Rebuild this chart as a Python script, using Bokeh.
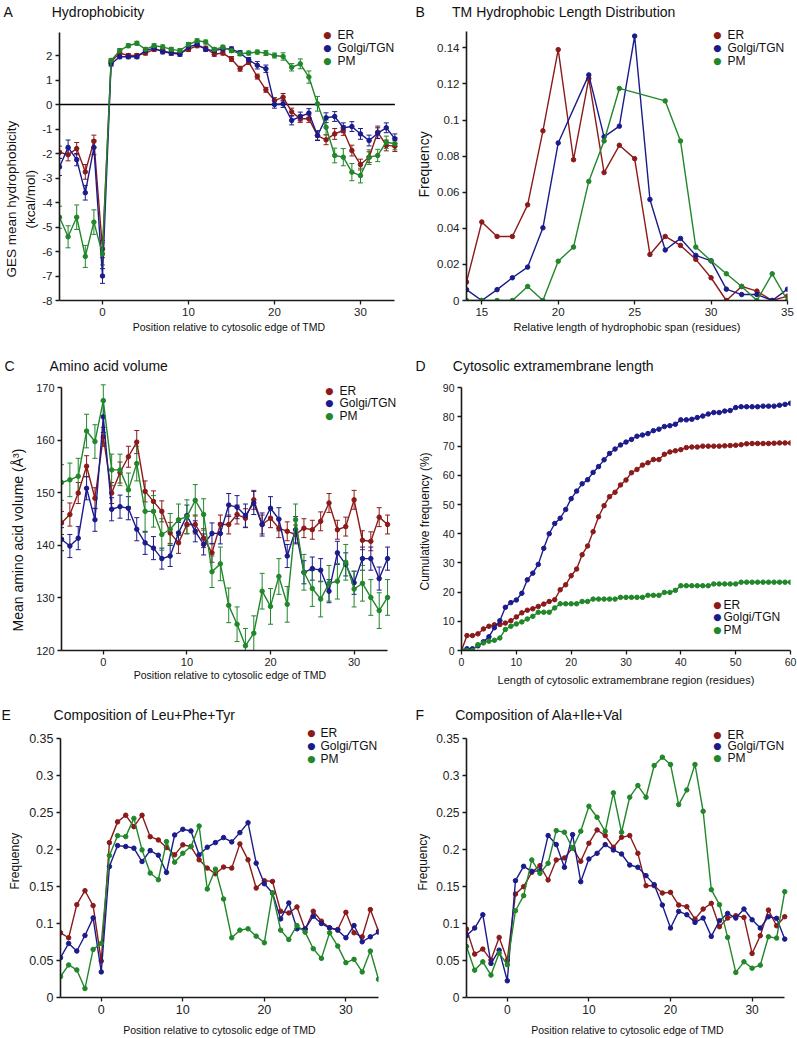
import math
from bokeh.plotting import figure
from bokeh.models import (Range1d, FixedTicker, Label, Whisker, ColumnDataSource, Title,
                          TeeHead, CustomJSTickFormatter)
from bokeh.layouts import column, row
from bokeh.embed import file_html
from bokeh.resources import INLINE

# ---------------- data ----------------
SERIES = ["ER", "Golgi/TGN", "PM"]
COLORS = ["#8b1a1a", "#1b1b8c", "#21872a"]

POS = list(range(-5, 35))  # position relative to cytosolic edge of TMD

# A: hydrophobicity (kcal/mol) with error bars
A_ER = [-1.95, -2.05, -1.8, -2.75, -1.5, -5.9, 1.75, 2.1, 2.0, 2.0, 2.1, 2.25, 2.2, 2.1, 2.1, 2.25, 2.4, 2.3, 2.05,
        2.1, 1.86, 1.46, 1.73, 1.14, 0.6, 0.16, 0.3, -0.3, -0.58, -0.58, -1.27, -1.44, -1.2, -1.06, -1.88, -2.45,
        -2.15, -1.13, -1.67, -1.7]
A_GOLGI = [-2.55, -1.75, -2.25, -3.6, -1.75, -7.0, 1.65, 1.95, 1.95, 1.95, 2.2, 2.3, 2.15, 2.1, 2.05, 2.35, 2.45,
           2.25, 2.2, 2.27, 2.27, 2.1, 1.82, 1.6, 1.46, 0.0, 0.03, -0.65, -0.49, -0.35, -1.27, -0.54, -0.49, -0.95,
           -0.9, -1.2, -1.47, -1.17, -0.95, -1.4]
A_PM = [-4.6, -5.4, -4.6, -6.2, -4.8, -6.1, 1.8, 2.2, 2.4, 2.5, 2.25, 2.4, 2.35, 2.25, 2.2, 2.45, 2.6, 2.55, 2.25,
        2.34, 2.2, 2.07, 2.1, 2.14, 2.1, 2.0, 1.96, 1.52, 1.66, 1.12, 0.03, -0.93, -2.08, -2.15, -2.76, -2.9, -2.15,
        -2.08, -1.54, -1.6]
A_ER_ERR = [0.25, 0.25, 0.25, 0.3, 0.25, 0.35, 0.08, 0.08, 0.08, 0.08, 0.08, 0.08, 0.08, 0.08, 0.08, 0.08, 0.08,
            0.08, 0.08, 0.08, 0.1, 0.1, 0.1, 0.1, 0.1, 0.12, 0.15, 0.15, 0.15, 0.15, 0.18, 0.2, 0.22, 0.2, 0.22,
            0.22, 0.22, 0.25, 0.22, 0.22]
A_GOLGI_ERR = [0.35, 0.3, 0.25, 0.3, 0.3, 0.3, 0.08, 0.08, 0.08, 0.08, 0.08, 0.08, 0.08, 0.08, 0.08, 0.08, 0.08,
               0.08, 0.08, 0.08, 0.08, 0.1, 0.1, 0.15, 0.15, 0.15, 0.15, 0.18, 0.18, 0.18, 0.2, 0.2, 0.2, 0.2,
               0.2, 0.22, 0.22, 0.22, 0.2, 0.2]
A_PM_ERR = [0.45, 0.45, 0.5, 0.45, 0.5, 0.45, 0.08, 0.08, 0.08, 0.08, 0.08, 0.08, 0.08, 0.08, 0.08, 0.08, 0.08,
            0.08, 0.08, 0.08, 0.08, 0.08, 0.08, 0.08, 0.1, 0.1, 0.15, 0.15, 0.2, 0.25, 0.3, 0.3, 0.3, 0.35, 0.35,
            0.3, 0.3, 0.25, 0.25, 0.25]
A_ZERO = [0, 0]  # horizontal reference line at zero hydrophobicity

# B: TM hydrophobic length distribution
B_ER_X = [14, 15, 16, 17, 18, 19, 20, 21, 22, 23, 24, 25, 26, 27, 28, 29, 30, 31, 32, 33, 34, 35]
B_ER = [0.0102, 0.0435, 0.0355, 0.0355, 0.053, 0.094, 0.139, 0.078, 0.123, 0.0709, 0.086, 0.0786, 0.0255, 0.0355,
        0.0305, 0.0228, 0.0126, 0.0, 0.0078, 0.0052, 0.0, 0.0024]
B_GOLGI_X = [14, 15, 16, 17, 18, 19, 20, 22, 23, 24, 25, 26, 27, 28, 29, 30, 31, 32, 33, 34, 35]
B_GOLGI = [0.006, 0.0, 0.006, 0.0126, 0.0185, 0.0403, 0.0873, 0.125, 0.0907, 0.0966, 0.1465, 0.056, 0.028, 0.0344,
           0.025, 0.022, 0.0063, 0.0033, 0.0033, 0.0, 0.0063]
B_PM_X = [14, 15, 16, 17, 18, 19, 20, 21, 22, 23, 24, 27, 28, 29, 30, 31, 32, 33, 34, 35]
B_PM = [0.0, 0.0, 0.0, 0.0, 0.0078, 0.0, 0.0218, 0.0296, 0.066, 0.0884, 0.1175, 0.1106, 0.0884, 0.0296, 0.022,
        0.0148, 0.0078, 0.0, 0.0148, 0.0]

# C: amino acid volume (A^3) with error bars
C_ER = [144.3, 145.9, 150.0, 155.1, 149.0, 160.7, 150.0, 153.9, 156.9, 159.7, 150.3, 148.4, 146.5, 142.4, 140.5,
        144.0, 144.0, 141.4, 138.6, 144.0, 144.0, 145.9, 145.2, 148.7, 144.0, 145.2, 143.3, 142.7, 142.1, 143.3,
        143.0, 144.6, 148.1, 143.0, 143.6, 148.7, 141.0, 140.8, 145.4, 144.0]
C_GOLGI = [141.2, 139.9, 141.4, 150.9, 144.9, 164.5, 146.9, 147.4, 147.1, 143.1, 140.5, 139.5, 137.5, 138.0, 142.4,
           145.7, 142.7, 140.2, 142.3, 142.3, 147.7, 147.3, 145.7, 148.1, 144.0, 147.1, 145.0, 138.0, 143.0, 134.9,
           135.6, 135.3, 131.3, 138.6, 136.4, 132.9, 137.5, 137.5, 133.7, 137.5]
C_PM = [152.0, 152.5, 153.2, 161.8, 159.8, 167.6, 154.4, 154.4, 150.6, 155.6, 146.5, 146.5, 142.1, 143.1, 144.9,
        145.5, 148.6, 145.9, 135.0, 136.5, 128.6, 125.0, 120.9, 123.3, 131.3, 128.4, 134.1, 128.8, 144.9, 134.9,
        131.8, 129.8, 132.8, 133.2, 136.8, 131.7, 132.8, 130.1, 127.6, 130.1]
C_ER_ERR = [2.2, 2.2, 2.0, 2.0, 2.0, 1.8, 2.0, 2.0, 2.0, 2.2, 2.0, 2.0, 2.0, 2.0, 2.0, 1.8, 1.8, 1.8, 1.8, 1.8,
            1.8, 1.8, 1.8, 1.8, 1.8, 1.8, 1.8, 1.8, 1.8, 1.8, 1.8, 1.8, 1.8, 1.8, 1.8, 1.8, 1.8, 1.8, 1.8, 1.8]
C_GOLGI_ERR = [2.2, 2.2, 2.2, 2.2, 2.2, 3.0, 2.2, 2.2, 2.2, 2.2, 2.2, 2.2, 2.0, 2.0, 2.0, 2.0, 2.0, 2.0, 2.0, 2.0,
               2.2, 2.2, 2.2, 2.2, 2.2, 2.2, 2.2, 2.2, 2.5, 2.2, 2.2, 2.2, 2.2, 2.2, 2.2, 2.2, 2.2, 2.2, 2.2, 2.2]
C_PM_ERR = [3.4, 3.2, 3.4, 3.2, 3.2, 3.0, 3.0, 3.0, 3.2, 3.3, 4.0, 3.0, 3.0, 3.0, 3.0, 3.2, 3.0, 3.0, 3.0, 3.2,
            3.3, 3.3, 3.3, 3.3, 3.4, 3.4, 3.4, 3.4, 3.0, 3.4, 3.4, 3.4, 3.4, 3.4, 3.4, 3.4, 3.4, 3.4, 3.4, 3.4]

# D: cumulative frequency (%) of cytosolic extramembrane length
D_LEN = list(range(0, 61))
D_ER = [0, 5.1, 5.1, 5.7, 7.4, 8.3, 8.8, 8.9, 9.4, 10.2, 11.5, 12.9, 13.8, 14.3, 15.1, 15.9, 16.8, 17.4, 20.8, 22.5,
        25.6, 27.9, 32.8, 35.8, 40.7, 45.8, 49.6, 52.7, 54.2, 56.7, 58.4, 60.9, 62.0, 63.5, 64.3, 65.4, 65.4, 67.2,
        68.0, 68.4, 68.8, 69.5, 69.7, 69.7, 70.0, 70.0, 70.0, 70.0, 70.1, 70.2, 70.3, 70.5, 70.8, 70.9, 70.9, 70.9,
        70.9, 71.0, 71.1, 71.1, 71.1]
D_GOLGI = [0, 0.6, 0.6, 1.6, 3.0, 4.7, 7.8, 10.2, 14.8, 16.4, 17.3, 19.6, 24.2, 26.5, 29.5, 35.0, 40.0, 43.5, 45.3,
           48.3, 52.0, 54.6, 57.1, 58.5, 61.0, 63.0, 65.3, 67.5, 69.0, 70.4, 71.4, 72.3, 73.4, 73.8, 74.3, 75.3,
           75.8, 76.7, 77.0, 77.5, 79.0, 79.0, 79.2, 79.8, 80.3, 81.0, 81.5, 81.5, 82.0, 82.2, 83.2, 83.5, 83.5,
           83.5, 83.5, 83.7, 83.7, 83.7, 84.0, 84.3, 84.7]
D_PM = [0, 0, 0, 2.0, 2.6, 3.2, 3.5, 4.3, 7.2, 8.3, 9.1, 9.8, 10.8, 11.7, 13.1, 13.1, 13.1, 14.6, 16.0, 16.0, 16.0,
        16.0, 16.8, 16.8, 17.6, 17.6, 17.6, 17.6, 17.6, 18.2, 18.2, 18.2, 18.2, 18.2, 18.9, 18.9, 18.9, 19.9, 19.9,
        20.6, 22.2, 22.2, 22.2, 22.2, 22.2, 22.2, 22.8, 22.8, 22.8, 22.8, 22.8, 23.4, 23.4, 23.4, 23.4, 23.4, 23.4,
        23.4, 23.4, 23.4, 23.4]

# E: composition of Leu+Phe+Tyr
E_ER = [0.0873, 0.0806, 0.1253, 0.1441, 0.124, 0.0492, 0.209, 0.237, 0.246, 0.2305, 0.246, 0.217, 0.2126, 0.2023,
        0.1925, 0.206, 0.2037, 0.1858, 0.1746, 0.167, 0.176, 0.1746, 0.2073, 0.1858, 0.1477, 0.1576, 0.1567, 0.1164,
        0.1141, 0.1222, 0.0918, 0.1164, 0.103, 0.094, 0.0918, 0.115, 0.0873, 0.0819, 0.1186, 0.0895]
E_GOLGI = [0.0537, 0.073, 0.0627, 0.0837, 0.1074, 0.0345, 0.1768, 0.205, 0.2037, 0.2015, 0.1835, 0.1983, 0.192,
           0.1688, 0.2193, 0.227, 0.2247, 0.1925, 0.2028, 0.209, 0.2158, 0.21, 0.2225, 0.2359, 0.1813, 0.1535, 0.141,
           0.1061, 0.1276, 0.0927, 0.0927, 0.1097, 0.0998, 0.094, 0.0909, 0.0806, 0.0971, 0.0752, 0.0819, 0.0882]
E_PM = [0.0282, 0.0439, 0.0372, 0.0121, 0.0649, 0.073, 0.1916, 0.2184, 0.2171, 0.2417, 0.1992, 0.1679, 0.1589,
        0.2104, 0.1826, 0.1947, 0.2037, 0.2314, 0.1464, 0.1732, 0.1329, 0.0806, 0.0909, 0.0927, 0.0828, 0.0739,
        0.141, 0.0909, 0.0783, 0.0971, 0.0882, 0.0658, 0.0528, 0.0873, 0.0694, 0.047, 0.0515, 0.0345, 0.0627,
        0.0246]

# F: composition of Ala+Ile+Val
F_ER = [0.0926, 0.0587, 0.0655, 0.0506, 0.0813, 0.0506, 0.14, 0.15, 0.1694, 0.1784, 0.159, 0.1861, 0.1888, 0.2024,
        0.1843, 0.2087, 0.2267, 0.2191, 0.2033, 0.2168, 0.2191, 0.1951, 0.1513, 0.1513, 0.1414, 0.1423, 0.1251,
        0.1229, 0.1061, 0.1197, 0.1274, 0.0958, 0.1075, 0.1107, 0.1084, 0.0596, 0.0836, 0.1183, 0.0971, 0.1093]
F_GOLGI = [0.0836, 0.094, 0.112, 0.0461, 0.0641, 0.0226, 0.1581, 0.1775, 0.1707, 0.1716, 0.2191, 0.2069, 0.1762,
           0.2204, 0.1567, 0.1874, 0.1951, 0.2069, 0.1996, 0.1942, 0.1793, 0.1762, 0.1649, 0.1527, 0.1251, 0.094,
           0.1165, 0.112, 0.1016, 0.1075, 0.0827, 0.1039, 0.1138, 0.1075, 0.1197, 0.1052, 0.094, 0.1093, 0.1071,
           0.079]
F_PM = [0.0691, 0.037, 0.0483, 0.0303, 0.0601, 0.0443, 0.1174, 0.1378, 0.1861, 0.168, 0.1816, 0.2258, 0.2236,
        0.2019, 0.2249, 0.2588, 0.2439, 0.2249, 0.2769, 0.2236, 0.271, 0.2868, 0.271, 0.3139, 0.3252, 0.3153, 0.2611,
        0.2809, 0.3153, 0.252, 0.1459, 0.1256, 0.0813, 0.0339, 0.0483, 0.0397, 0.0438, 0.0822, 0.0804, 0.1432]

# tick labels
A_YTICKS = [-8, -7, -6, -5, -4, -3, -2, -1, 0, 1, 2]
POS_XTICKS = [0, 10, 20, 30]
B_XTICKS = [15, 20, 25, 30, 35]
B_YTICKS = [0, 0.02, 0.04, 0.06, 0.08, 0.1, 0.12, 0.14]
C_YTICKS = [120, 130, 140, 150, 160, 170]
D_XTICKS = [0, 10, 20, 30, 40, 50, 60]
D_YTICKS = [0, 10, 20, 30, 40, 50, 60, 70, 80, 90]
EF_YTICKS = [0, 0.05, 0.1, 0.15, 0.2, 0.25, 0.3, 0.35]

# ---------------- styling ----------------
FONT = "Liberation Sans"
AXC = "#1a1a1a"
TXC = "#111111"
FMT = CustomJSTickFormatter(code="""
let s = tick.toFixed(2); s = s.replace(/0+$/, ''); s = s.replace(/\\.$/, ''); return s;
""")
NB = "\u00a0"


def make_fig(width, height, xr, yr, xb, yb, bl, br, bt, bb, xticks, yticks, tick_size,
             title, title_offset, xlabel, xlabel_size, xlabel_standoff):
    p = figure(width=width, height=height, x_range=Range1d(*xr), y_range=Range1d(*yr),
               output_backend="svg", toolbar_location=None,
               min_border_left=bl, min_border_right=br, min_border_top=bt, min_border_bottom=bb)
    p.outline_line_color = None
    p.xgrid.visible = False
    p.ygrid.visible = False
    p.title.text = title
    p.title.text_font = FONT
    p.title.text_font_size = "14px"
    p.title.text_font_style = "normal"
    p.title.text_color = TXC
    p.title.align = "left"
    p.title.offset = title_offset
    p.title.standoff = 0
    for ax, ticks, bnds in ((p.xaxis[0], xticks, xb), (p.yaxis[0], yticks, yb)):
        ax.ticker = FixedTicker(ticks=ticks)
        ax.formatter = FMT
        ax.bounds = bnds
        ax.axis_line_width = 1.6
        ax.axis_line_color = AXC
        ax.major_tick_line_color = AXC
        ax.major_tick_line_width = 1.3
        ax.major_tick_out = 4
        ax.major_tick_in = 0
        ax.minor_tick_line_color = None
        ax.major_label_text_font = FONT
        ax.major_label_text_font_size = tick_size
        ax.major_label_text_color = "#222222"
        ax.major_label_standoff = 3
    xa = p.xaxis[0]
    xa.axis_label = xlabel
    xa.axis_label_text_font = FONT
    xa.axis_label_text_font_size = xlabel_size
    xa.axis_label_text_font_style = "normal"
    xa.axis_label_text_color = TXC
    xa.axis_label_standoff = xlabel_standoff
    return p


def ylab(p, text, size, offset, standoff):
    p.add_layout(Title(text=text, align="left", offset=offset, standoff=standoff, text_font=FONT,
                       text_font_size=size, text_font_style="normal", text_color=TXC), "left")


def txt(p, x, y, text, size, align="left", color=TXC, font=FONT):
    p.add_layout(Label(x=x, y=y, x_units="screen", y_units="screen", text=text, text_font_size=size,
                       text_font=font, text_align=align, text_baseline="middle", text_color=color))


def legend(p, xdot, xtext, ys, size="12px"):
    for name, col, y in zip(SERIES, COLORS, ys):
        txt(p, xdot, y, "\u25cf", "9.5px", align="center", color=col, font="DejaVu Sans")
        txt(p, xtext, y, name, size)


def series(p, xs, ys, color, errs=None):
    if errs is not None:
        src = ColumnDataSource(dict(x=xs, lo=[v - e for v, e in zip(ys, errs)],
                                    hi=[v + e for v, e in zip(ys, errs)]))
        p.add_layout(Whisker(source=src, base="x", lower="lo", upper="hi", line_color=color, line_width=1,
                             upper_head=TeeHead(size=5, line_color=color, line_width=1),
                             lower_head=TeeHead(size=5, line_color=color, line_width=1)))
    p.line(xs, ys, line_color=color, line_width=1.4)
    p.scatter(xs, ys, size=4.5, fill_color=color, line_color=color)


POS_LABEL = "Position relative to cytosolic edge of TMD"

# ---- A ----
pA = make_fig(400, 338, (-5, 34.42), (-8, 3.47), (-5, 34), (-8, 2.94), 59, 2, 19, 38, POS_XTICKS, A_YTICKS,
              "11.5px", "A" + NB * 10 + "Hydrophobicity", -56, POS_LABEL, "10.5px", 2)
pA.segment(x0=[POS[0]], y0=[A_ZERO[0]], x1=[POS[-1]], y1=[A_ZERO[1]], line_color="black", line_width=1.5)
for ys, es, c in ((A_ER, A_ER_ERR, COLORS[0]), (A_GOLGI, A_GOLGI_ERR, COLORS[1]), (A_PM, A_PM_ERR, COLORS[2])):
    series(pA, POS, ys, c, es)
ylab(pA, "(kcal/mol)", "13.5px", 72, 3)
ylab(pA, "GES mean hydrophobicity", "13.5px", 23, 1)
legend(pA, 268, 278, [266, 253, 240])

# ---- B ----
pB = make_fig(397, 338, (14, 35), (0, 0.1557), (14, 35), (0, 0.149), 66, 10, 19, 38, B_XTICKS, B_YTICKS,
              "11.5px", "B" + NB * 7 + "TM Hydrophobic Length Distribution", -51,
              "Relative length of hydrophobic span (residues)", "11px", 2)
for xs, ys, c in ((B_ER_X, B_ER, COLORS[0]), (B_GOLGI_X, B_GOLGI, COLORS[1]), (B_PM_X, B_PM, COLORS[2])):
    series(pB, xs, ys, c)
ylab(pB, "Frequency", "14px", 103, 5)
legend(pB, 251, 261, [266, 253, 240])

# ---- C ----
pC = make_fig(400, 350, (-5, 35.31), (120, 172.76), (-5, 34), (120, 170), 59, 2, 35, 36, POS_XTICKS, C_YTICKS,
              "11px", "C" + NB * 9 + "Amino acid volume", -57, POS_LABEL, "10.5px", 0)
for ys, es, c in ((C_ER, C_ER_ERR, COLORS[0]), (C_GOLGI, C_GOLGI_ERR, COLORS[1]), (C_PM, C_PM_ERR, COLORS[2])):
    series(pC, POS, ys, c, es)
ylab(pC, "Mean amino acid volume (\u00c5\u00b3)", "14px", 19, 15)
legend(pC, 268, 278, [260, 248, 235])

# ---- D ----
pD = make_fig(397, 350, (0, 60), (0, 94.88), (0, 60), (0, 90), 61, 7, 35, 37, D_XTICKS, D_YTICKS,
              "10.5px", "D" + NB * 7 + "Cytosolic extramembrane length", -46,
              "Length of cytosolic extramembrane region (residues)", "11px", 5)
for ys, c in ((D_ER, COLORS[0]), (D_GOLGI, COLORS[1]), (D_PM, COLORS[2])):
    series(pD, D_LEN, ys, c)
ylab(pD, "Cumulative frequency (%)", "12px", 60, 16)
legend(pD, 256, 262, [46, 34, 21])

# ---- E ----
pE = make_fig(400, 350, (-5, 34), (0, 0.3711), (-5, 34), (0, 0.35), 59, 22, 34, 40, POS_XTICKS, EF_YTICKS,
              "12.5px", "E" + NB * 11 + "Composition of Leu+Phe+Tyr", -59, POS_LABEL, "10.5px", 7)
for ys, c in ((E_ER, COLORS[0]), (E_GOLGI, COLORS[1]), (E_PM, COLORS[2])):
    series(pE, POS, ys, c)
ylab(pE, "Frequency", "12px", 108, 10)
legend(pE, 251, 260, [265, 252, 239])

# ---- F ----
pF = make_fig(397, 350, (-5, 34.46), (0, 0.3721), (-5, 34), (0, 0.35), 66, 9, 34, 41, POS_XTICKS, EF_YTICKS,
              "12px", "F" + NB * 8 + "Composition of Ala+Ile+Val", -51, POS_LABEL, "10.5px", 7)
for ys, c in ((F_ER, COLORS[0]), (F_GOLGI, COLORS[1]), (F_PM, COLORS[2])):
    series(pF, POS, ys, c)
ylab(pF, "Frequency", "12px", 107, 7)
legend(pF, 251, 261, [263, 252, 240])

p = column(row(pA, pB), row(pC, pD), row(pE, pF))
open("out.html", "w").write(file_html(p, INLINE))
